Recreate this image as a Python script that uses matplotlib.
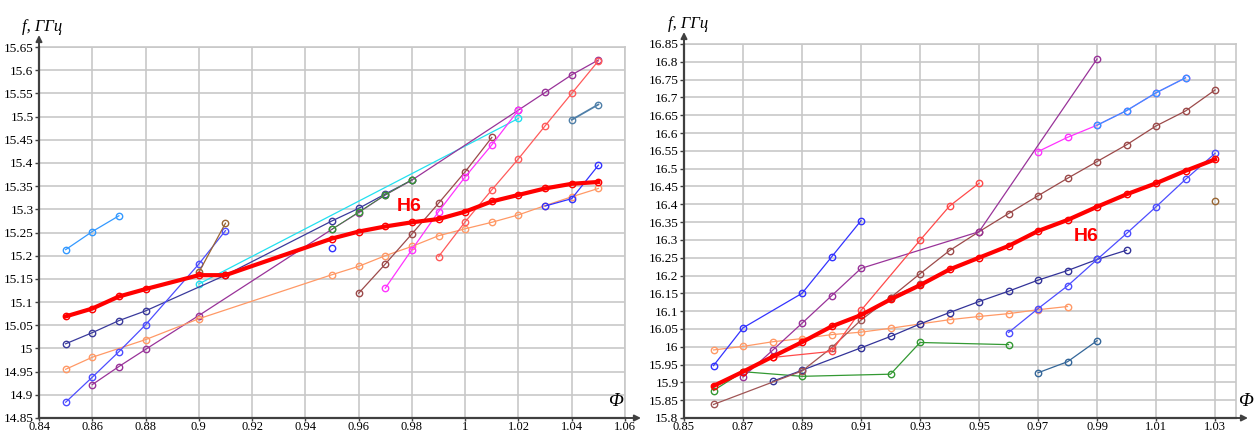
import matplotlib
matplotlib.use("Agg")
import matplotlib.pyplot as plt
import numpy as np

# ---------------- LEFT PANEL DATA ----------------
L_h6_x = [0.85, 0.86, 0.87, 0.88, 0.90, 0.91, 0.95, 0.96, 0.97, 0.98, 0.99, 1.00, 1.01, 1.02, 1.03, 1.04, 1.05]
L_h6_y = [15.069, 15.086, 15.112, 15.128, 15.158, 15.158, 15.237, 15.252, 15.263, 15.272, 15.279, 15.295, 15.317, 15.331, 15.345, 15.355, 15.359]

L_navy_x = [0.85, 0.86, 0.87, 0.88, 0.91, 0.95, 0.96, 0.97, 0.98]
L_navy_y = [15.010, 15.034, 15.060, 15.081, 15.158, 15.275, 15.302, 15.333, 15.363]

L_purple_x = [0.86, 0.87, 0.88, 0.90, 0.95, 0.96, 0.97, 0.98, 1.02, 1.03, 1.04, 1.05]
L_purple_y = [14.922, 14.961, 14.998, 15.071, 15.257, 15.293, 15.331, 15.363, 15.514, 15.552, 15.590, 15.622]

L_green_x = [0.95, 0.96, 0.97, 0.98]
L_green_y = [15.257, 15.294, 15.331, 15.364]

L_cyan_x = [0.90, 1.02]
L_cyan_y = [15.139, 15.496]

L_brown_x = [0.90, 0.91]
L_brown_y = [15.164, 15.270]

L_blue_x = [0.85, 0.86, 0.87, 0.88, 0.90, 0.91]
L_blue_y = [14.884, 14.938, 14.993, 15.051, 15.182, 15.254]

L_lblue_x = [0.85, 0.86, 0.87]
L_lblue_y = [15.213, 15.252, 15.286]

L_orange_x = [0.85, 0.86, 0.88, 0.90, 0.95, 0.96, 0.97, 0.98, 0.99, 1.00, 1.01, 1.02, 1.03, 1.04, 1.05]
L_orange_y = [14.955, 14.981, 15.019, 15.064, 15.159, 15.177, 15.200, 15.220, 15.243, 15.258, 15.272, 15.288, 15.308, 15.327, 15.345]

L_blue2_x = [1.03, 1.04, 1.05]
L_blue2_y = [15.307, 15.323, 15.395]

L_blue_pt_x = [0.95]
L_blue_pt_y = [15.217]

L_steel_x = [1.04, 1.05]
L_steel_y = [15.493, 15.526]

L_rbrown_x = [0.96, 0.97, 0.98, 0.99, 1.00, 1.01]
L_rbrown_y = [15.119, 15.182, 15.247, 15.313, 15.381, 15.455]

L_magenta_x = [0.97, 0.98, 0.99, 1.00, 1.01, 1.02]
L_magenta_y = [15.130, 15.213, 15.295, 15.370, 15.439, 15.514]

L_salmon_x = [0.99, 1.00, 1.01, 1.02, 1.03, 1.04, 1.05]
L_salmon_y = [15.198, 15.273, 15.342, 15.409, 15.480, 15.550, 15.620]

L_xticks = [0.84, 0.86, 0.88, 0.90, 0.92, 0.94, 0.96, 0.98, 1.00, 1.02, 1.04, 1.06]
L_xticklabels = ["0.84", "0.86", "0.88", "0.9", "0.92", "0.94", "0.96", "0.98", "1", "1.02", "1.04", "1.06"]
L_yticks = [14.85, 14.9, 14.95, 15.0, 15.05, 15.1, 15.15, 15.2, 15.25, 15.3, 15.35, 15.4, 15.45, 15.5, 15.55, 15.6, 15.65]
L_yticklabels = ["14.85", "14.9", "14.95", "15", "15.05", "15.1", "15.15", "15.2", "15.25", "15.3", "15.35", "15.4", "15.45", "15.5", "15.55", "15.6", "15.65"]

# ---------------- RIGHT PANEL DATA ----------------
R_h6_x = [0.86, 0.87, 0.88, 0.89, 0.90, 0.91, 0.92, 0.93, 0.94, 0.95, 0.96, 0.97, 0.98, 0.99, 1.00, 1.01, 1.02, 1.03]
R_h6_y = [15.890, 15.930, 15.972, 16.013, 16.057, 16.089, 16.133, 16.173, 16.217, 16.250, 16.283, 16.325, 16.356, 16.393, 16.428, 16.459, 16.494, 16.526]

R_blue_x = [0.86, 0.87, 0.89, 0.90, 0.91]
R_blue_y = [15.947, 16.053, 16.150, 16.252, 16.354]

R_purple_x = [0.87, 0.88, 0.89, 0.90, 0.91, 0.95, 0.99]
R_purple_y = [15.915, 15.990, 16.066, 16.143, 16.220, 16.323, 16.808]

R_orange_x = [0.86, 0.87, 0.88, 0.89, 0.90, 0.91, 0.92, 0.93, 0.94, 0.95, 0.96, 0.97, 0.98]
R_orange_y = [15.991, 16.001, 16.014, 16.023, 16.034, 16.041, 16.052, 16.064, 16.076, 16.085, 16.093, 16.104, 16.113]

R_green_x = [0.86, 0.87, 0.89, 0.92, 0.93, 0.96]
R_green_y = [15.877, 15.930, 15.917, 15.923, 16.012, 16.006]

R_navy_x = [0.88, 0.89, 0.91, 0.92, 0.93, 0.94, 0.95, 0.96, 0.97, 0.98, 0.99, 1.00]
R_navy_y = [15.903, 15.934, 15.997, 16.029, 16.064, 16.096, 16.127, 16.156, 16.187, 16.214, 16.245, 16.271]

R_maroon_x = [0.86, 0.89, 0.90, 0.91, 0.92, 0.93]
R_maroon_y = [15.838, 15.932, 15.997, 16.075, 16.138, 16.175]

R_rbrown_x = [0.92, 0.93, 0.94, 0.95, 0.96, 0.97, 0.98, 0.99, 1.00, 1.01, 1.02, 1.03]
R_rbrown_y = [16.138, 16.205, 16.270, 16.323, 16.374, 16.424, 16.473, 16.520, 16.567, 16.620, 16.662, 16.721]

R_red_x = [0.88, 0.90, 0.91, 0.93, 0.94, 0.95]
R_red_y = [15.970, 15.987, 16.102, 16.299, 16.395, 16.459]

R_magenta_x = [0.97, 0.98, 0.99, 1.00, 1.01, 1.02]
R_magenta_y = [16.548, 16.588, 16.622, 16.663, 16.713, 16.755]

R_dblue_x = [0.99, 1.00, 1.01, 1.02]
R_dblue_y = [16.622, 16.663, 16.713, 16.755]

R_blue2_x = [0.96, 0.97, 0.98, 0.99, 1.00, 1.01, 1.02, 1.03]
R_blue2_y = [16.040, 16.107, 16.171, 16.245, 16.318, 16.393, 16.470, 16.543]

R_steel_x = [0.97, 0.98, 0.99]
R_steel_y = [15.927, 15.958, 16.017]

R_brownpt_x = [1.03]
R_brownpt_y = [16.409]

R_xticks = [0.85, 0.87, 0.89, 0.91, 0.93, 0.95, 0.97, 0.99, 1.01, 1.03]
R_xticklabels = ["0.85", "0.87", "0.89", "0.91", "0.93", "0.95", "0.97", "0.99", "1.01", "1.03"]
R_yticks = [15.8, 15.85, 15.9, 15.95, 16.0, 16.05, 16.1, 16.15, 16.2, 16.25, 16.3, 16.35, 16.4, 16.45, 16.5, 16.55, 16.6, 16.65, 16.7, 16.75, 16.8, 16.85]
R_yticklabels = ["15.8", "15.85", "15.9", "15.95", "16", "16.05", "16.1", "16.15", "16.2", "16.25", "16.3", "16.35", "16.4", "16.45", "16.5", "16.55", "16.6", "16.65", "16.7", "16.75", "16.8", "16.85"]

# ---------------- FIGURE ----------------
W, H = 1255, 432
fig = plt.figure(figsize=(W / 100, H / 100), dpi=100)
fig.patch.set_facecolor("white")

SERIF = "Liberation Serif"
GRID = "#c8c8c8"
MS = 4.6


def make_axes(left_px, right_px, top_px, bottom_px):
    ax = fig.add_axes([left_px / W, 1 - bottom_px / H, (right_px - left_px) / W, (bottom_px - top_px) / H])
    return ax


def style(ax, xlim, ylim, xt, xtl, yt, ytl):
    ax.set_xlim(*xlim)
    ax.set_ylim(*ylim)
    ax.set_xticks(xt)
    ax.set_xticklabels(xtl, fontfamily=SERIF, fontsize=9)
    ax.set_yticks(yt)
    ax.set_yticklabels(ytl, fontfamily=SERIF, fontsize=9.5)
    ax.grid(True, color=GRID, linewidth=1.2)
    ax.set_axisbelow(True)
    for s in ("top", "right"):
        ax.spines[s].set_color(GRID)
        ax.spines[s].set_linewidth(1.2)
    for s in ("left", "bottom"):
        ax.spines[s].set_color("#404040")
        ax.spines[s].set_linewidth(1.6)
        ax.spines[s].set_zorder(5)
    ax.tick_params(axis="y", direction="out", length=3, width=1, color="#404040", pad=1)
    ax.tick_params(axis="x", direction="out", length=2, width=1, color="#404040", pad=0)


def series(ax, x, y, color, lw=0.9, ms=MS, z=3, marker="o", ls="-"):
    ax.plot(x, y, color=color, linewidth=lw, linestyle=ls, marker=marker, markersize=ms,
            markerfacecolor="none", markeredgecolor=color, markeredgewidth=1.0, zorder=z)


def arrows(ax, right_extra_px, top_extra_px):
    bb = ax.get_position()
    wpx = bb.width * W
    hpx = bb.height * H
    ax.annotate("", xy=(1 + right_extra_px / wpx, 0), xycoords="axes fraction",
                xytext=(1, 0), textcoords="axes fraction",
                arrowprops=dict(arrowstyle="-|>", color="#404040", lw=1.4, mutation_scale=9,
                                shrinkA=0, shrinkB=0), annotation_clip=False)
    ax.annotate("", xy=(0, 1 + top_extra_px / hpx), xycoords="axes fraction",
                xytext=(0, 1), textcoords="axes fraction",
                arrowprops=dict(arrowstyle="-|>", color="#404040", lw=1.4, mutation_scale=9,
                                shrinkA=0, shrinkB=0), annotation_clip=False)


# ---- Left panel ----
axL = make_axes(39, 625, 47, 418)
style(axL, (0.84, 1.06), (14.85, 15.65), L_xticks, L_xticklabels, L_yticks, L_yticklabels)
series(axL, L_cyan_x, L_cyan_y, "#22e0f0")
series(axL, L_navy_x, L_navy_y, "#3a3a9c")
series(axL, L_purple_x, L_purple_y, "#993399")
series(axL, L_green_x, L_green_y, "#339933", lw=0.6)
series(axL, L_orange_x, L_orange_y, "#ff9966")
series(axL, L_blue_x, L_blue_y, "#4d4dff")
series(axL, L_lblue_x, L_lblue_y, "#3399ff")
series(axL, L_brown_x, L_brown_y, "#996633")
series(axL, L_blue2_x, L_blue2_y, "#3333ff")
series(axL, L_blue_pt_x, L_blue_pt_y, "#3333ff", marker="o", ls="none")
series(axL, L_steel_x, L_steel_y, "#4f7fa8", lw=1.3)
series(axL, L_rbrown_x, L_rbrown_y, "#9c4a4a")
series(axL, L_magenta_x, L_magenta_y, "#ff33ff")
series(axL, L_salmon_x, L_salmon_y, "#ff5a5a")
series(axL, L_h6_x, L_h6_y, "#ff0000", lw=3.0, ms=MS, z=6)
axL.text(0.9791, 15.306, "H6", color="#ff0000", fontsize=14, fontweight="bold",
         fontfamily="Liberation Sans", ha="center", va="center", zorder=7)
arrows(axL, 16, 12)

# ---- Right panel ----
axR = make_axes(684, 1236, 44, 418)
style(axR, (0.85, 1.0371), (15.8, 16.85), R_xticks, R_xticklabels, R_yticks, R_yticklabels)
series(axR, R_orange_x, R_orange_y, "#ff9966")
series(axR, R_green_x, R_green_y, "#339933")
series(axR, R_navy_x, R_navy_y, "#333399")
series(axR, R_maroon_x, R_maroon_y, "#a05555")
series(axR, R_rbrown_x, R_rbrown_y, "#9c4a4a")
series(axR, R_purple_x, R_purple_y, "#993399")
series(axR, R_blue_x, R_blue_y, "#3333ff")
series(axR, R_red_x, R_red_y, "#ff4a4a")
series(axR, R_magenta_x, R_magenta_y, "#ff33ff")
series(axR, R_dblue_x, R_dblue_y, "#3399ff")
series(axR, R_blue2_x, R_blue2_y, "#4d4dff")
series(axR, R_steel_x, R_steel_y, "#336699")
series(axR, R_brownpt_x, R_brownpt_y, "#996633", ls="none")
series(axR, R_h6_x, R_h6_y, "#ff0000", lw=3.0, ms=MS, z=6)
axR.text(0.9864, 16.309, "H6", color="#ff0000", fontsize=14, fontweight="bold",
         fontfamily="Liberation Sans", ha="center", va="center", zorder=7)
arrows(axR, 12, 12)

# ---- axis titles ----
fig.text(22 / W, 1 - 31 / H, "f, ГГц", fontfamily=SERIF, fontstyle="italic", fontsize=12,
         ha="left", va="baseline")
fig.text(668 / W, 1 - 28 / H, "f, ГГц", fontfamily=SERIF, fontstyle="italic", fontsize=12,
         ha="left", va="baseline")
fig.text(615 / W, 1 - 401 / H, "Φ", fontfamily=SERIF, fontstyle="italic", fontsize=14,
         ha="center", va="center")
fig.text(1245 / W, 1 - 402 / H, "Φ", fontfamily=SERIF, fontstyle="italic", fontsize=14,
         ha="center", va="center")

fig.savefig("out.png", dpi=100, facecolor="white")
